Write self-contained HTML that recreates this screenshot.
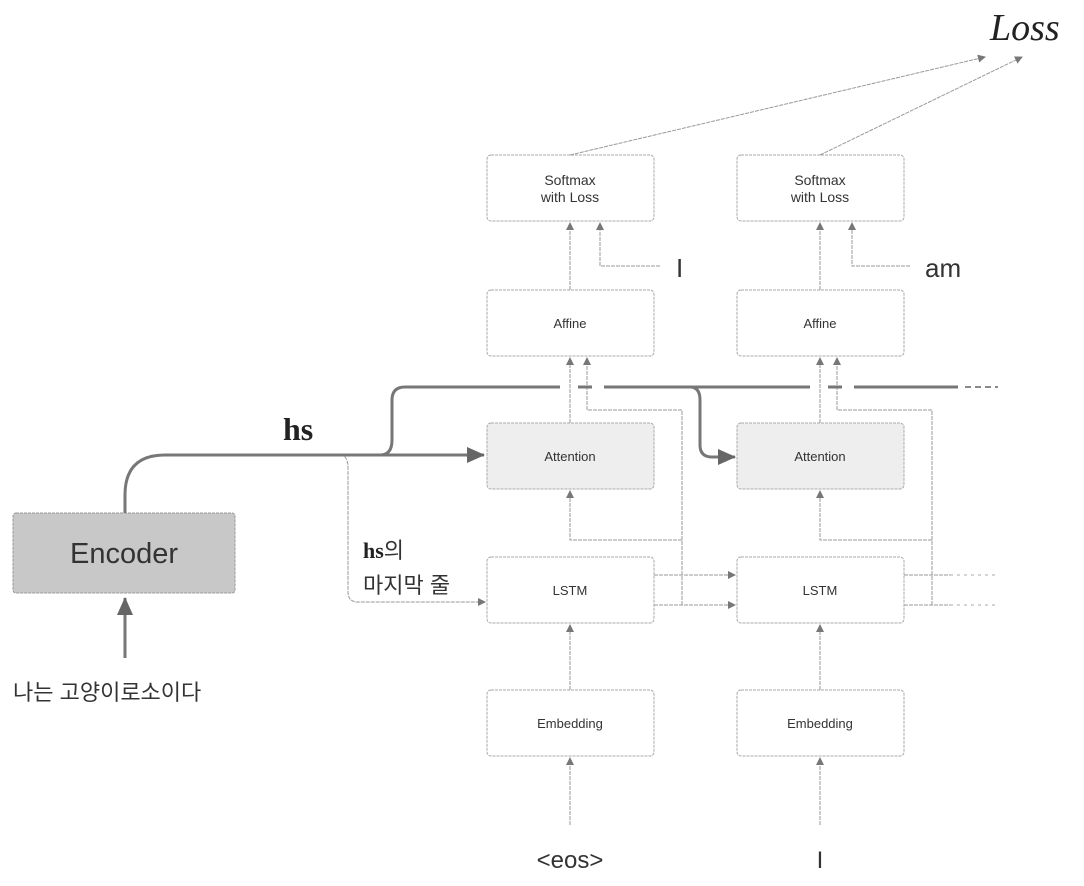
<!DOCTYPE html>
<html><head><meta charset="utf-8"><style>
body{margin:0;background:#fff;}
svg{display:block;}
.s{font-family:"Liberation Sans","Noto Sans CJK KR",sans-serif;fill:#333;}
</style></head><body>
<svg width="1084" height="886" viewBox="0 0 1084 886" xmlns="http://www.w3.org/2000/svg">
<defs>
<marker id="a" markerWidth="8" markerHeight="8" refX="7" refY="4" orient="auto" markerUnits="userSpaceOnUse"><path d="M0,0 L8,4 L0,8 z" fill="#777"/></marker>
<marker id="b" markerWidth="18" markerHeight="16" refX="17" refY="8" orient="auto" markerUnits="userSpaceOnUse"><path d="M0,0 L18,8 L0,16 z" fill="#666"/></marker>
</defs>
<g fill="#fff" stroke="#aaa" stroke-width="1" stroke-dasharray="3,1">
<rect x="487" y="155" width="167" height="66" rx="4"/>
<rect x="737" y="155" width="167" height="66" rx="4"/>
<rect x="487" y="290" width="167" height="66" rx="4"/>
<rect x="737" y="290" width="167" height="66" rx="4"/>
<rect x="487" y="423" width="167" height="66" rx="4" fill="#eee"/>
<rect x="737" y="423" width="167" height="66" rx="4" fill="#eee"/>
<rect x="487" y="557" width="167" height="66" rx="4"/>
<rect x="737" y="557" width="167" height="66" rx="4"/>
<rect x="487" y="690" width="167" height="66" rx="4"/>
<rect x="737" y="690" width="167" height="66" rx="4"/>
</g>
<rect x="13" y="513" width="222" height="80" rx="3" fill="#c8c8c8" stroke="#999" stroke-dasharray="3,1"/>
<g fill="none" stroke="#999" stroke-width="1" stroke-dasharray="4,1">
<line x1="570" y1="155" x2="985" y2="57" marker-end="url(#a)"/>
<line x1="820" y1="155" x2="1022" y2="57" marker-end="url(#a)"/>
<line x1="570" y1="290" x2="570" y2="223" marker-end="url(#a)"/>
<line x1="820" y1="290" x2="820" y2="223" marker-end="url(#a)"/>
<path d="M660,266 H600 V223" marker-end="url(#a)"/>
<path d="M910,266 H852 V223" marker-end="url(#a)"/>
<line x1="570" y1="423" x2="570" y2="358" marker-end="url(#a)"/>
<line x1="820" y1="423" x2="820" y2="358" marker-end="url(#a)"/>
<path d="M682,605 V410 H587 V358" marker-end="url(#a)"/>
<path d="M932,605 V410 H837 V358" marker-end="url(#a)"/>
<path d="M682,540 H570 V491" marker-end="url(#a)"/>
<path d="M932,540 H820 V491" marker-end="url(#a)"/>
<line x1="570" y1="690" x2="570" y2="625" marker-end="url(#a)"/>
<line x1="820" y1="690" x2="820" y2="625" marker-end="url(#a)"/>
<line x1="570" y1="825" x2="570" y2="758" marker-end="url(#a)"/>
<line x1="820" y1="825" x2="820" y2="758" marker-end="url(#a)"/>
<line x1="654" y1="575" x2="735" y2="575" marker-end="url(#a)"/>
<line x1="654" y1="605" x2="735" y2="605" marker-end="url(#a)"/>
<line x1="904" y1="575" x2="950" y2="575"/>
<line x1="904" y1="605" x2="950" y2="605"/>
<path d="M340,455 Q348,455 348,468 V592 Q348,602 358,602 H485" marker-end="url(#a)"/>
</g>
<g fill="none" stroke="#aaa" stroke-dasharray="3,4"><line x1="950" y1="575" x2="998" y2="575"/><line x1="950" y1="605" x2="998" y2="605"/></g>
<g fill="none" stroke="#777" stroke-width="3">
<path d="M125,513 V495 Q125,455 165,455 H484" marker-end="url(#b)"/>
<path d="M380,455 Q392,455 392,440 V400 Q392,387 405,387 H560 M578,387 H592 M604,387 H810 M828,387 H842 M854,387 H958"/>
<path d="M690,387 Q700,387 700,400 V445 Q700,457 712,457 H735" marker-end="url(#b)"/>
<path d="M125,658 V598" marker-end="url(#b)"/>
</g>
<line x1="965" y1="387" x2="998" y2="387" stroke="#888" stroke-width="2" stroke-dasharray="6,4"/>
<g class="s" text-anchor="middle" font-size="13">
<text x="570" y="185" font-size="14">Softmax</text><text x="570" y="202" font-size="14">with Loss</text>
<text x="820" y="185" font-size="14">Softmax</text><text x="820" y="202" font-size="14">with Loss</text>
<text x="570" y="328">Affine</text><text x="820" y="328">Affine</text>
<text x="570" y="461">Attention</text><text x="820" y="461">Attention</text>
<text x="570" y="595">LSTM</text><text x="820" y="595">LSTM</text>
<text x="570" y="728">Embedding</text><text x="820" y="728">Embedding</text>
<text x="124" y="563" font-size="29">Encoder</text>
<text x="570" y="868" font-size="24">&lt;eos&gt;</text>
<text x="820" y="868" font-size="24">I</text>
</g>
<text class="s" x="676" y="277" font-size="26">I</text>
<text class="s" x="925" y="277" font-size="26">am</text>
<text class="s" x="13" y="700" font-size="22">나는 고양이로소이다</text>
<text class="s" x="363" y="593" font-size="22">마지막 줄</text>
<text x="363" y="558" font-size="22" class="s"><tspan font-family="Liberation Serif" font-weight="bold" fill="#222">hs</tspan>의</text>
<text x="283" y="440" font-family="Liberation Serif" font-weight="bold" font-size="32" fill="#222">hs</text>
<text x="990" y="40" font-family="Liberation Serif" font-style="italic" font-size="38" fill="#222">Loss</text>
</svg>
</body></html>
